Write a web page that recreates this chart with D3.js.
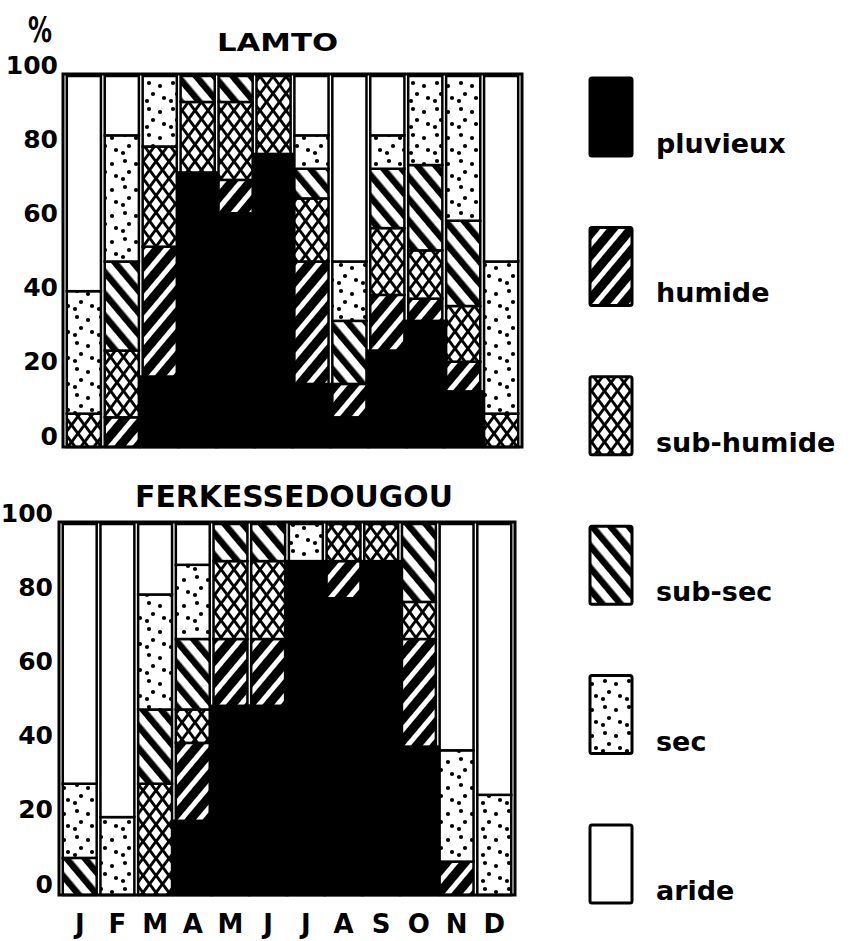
<!DOCTYPE html>
<html><head><meta charset="utf-8">
<script src="https://cdn.jsdelivr.net/npm/d3@7/dist/d3.min.js"></script>
<style>
body{margin:0;background:#fff;}
svg{display:block;}
text{font-family:'DejaVu Sans',sans-serif;font-weight:bold;fill:#000;}
</style></head><body>
<svg id="c" width="852" height="941"></svg>
<script>
// ---------- data ----------
const months = ["J","F","M","A","M","J","J","A","S","O","N","D"];
const categories = ["pluvieux","humide","sub-humide","sub-sec","sec","aride"];
const yTicks = [0,20,40,60,80,100];

// LAMTO (% of years per class, stacked bottom -> top)
const lamtoPluvieux  = [0, 0, 19, 74, 63, 79, 17,  8, 26, 34, 15,  0];
const lamtoHumide    = [0, 8, 35,  0,  9,  0, 33,  9, 15,  6,  8,  0];
const lamtoSubHumide = [9,18, 27, 19, 21, 21, 17,  0, 18, 13, 15,  9];
const lamtoSubSec    = [0,24,  0,  7,  7,  0,  8, 17, 16, 23, 23,  0];
const lamtoSec       = [33,34,19,  0,  0,  0,  9, 16,  9, 24, 39, 41];
const lamtoAride     = [58,16, 0,  0,  0,  0, 16, 50, 16,  0,  0, 50];

// FERKESSEDOUGOU
const ferkePluvieux  = [0, 0,  0, 20, 51, 51, 90, 80, 90, 40,  0,  0];
const ferkeHumide    = [0, 0,  0, 21, 18, 18,  0, 10,  0, 29,  9,  0];
const ferkeSubHumide = [0, 0, 30,  9, 21, 21,  0, 10, 10, 10,  0,  0];
const ferkeSubSec    = [10,0, 20, 19, 10, 10,  0,  0,  0, 21,  0,  0];
const ferkeSec       = [20,21,31, 20,  0,  0, 10,  0,  0,  0, 30, 27];
const ferkeAride     = [70,79,19, 11,  0,  0,  0,  0,  0,  0, 61, 73];

// ---------- setup ----------
const svg = d3.select("#c");
const defs = svg.append("defs");

// humide: black with white "/" stripes
const ph = defs.append("pattern").attr("id","p-humide").attr("patternUnits","userSpaceOnUse")
  .attr("width",14).attr("height",14).attr("patternTransform","rotate(40)");
ph.append("rect").attr("width",14).attr("height",14).attr("fill","#000");
ph.append("rect").attr("x",5).attr("width",5).attr("height",14).attr("fill","#fff");

// sub-sec: white with black "\" stripes
const pss = defs.append("pattern").attr("id","p-subsec").attr("patternUnits","userSpaceOnUse")
  .attr("width",14).attr("height",14).attr("patternTransform","rotate(-40)");
pss.append("rect").attr("width",14).attr("height",14).attr("fill","#fff");
pss.append("rect").attr("x",0).attr("width",6.5).attr("height",14).attr("fill","#000");

// sub-humide: black lattice with white diamonds
const TW = 13, TH = 17, dw = 4.6, dh = 6.3;
const psh = defs.append("pattern").attr("id","p-subhumide").attr("patternUnits","userSpaceOnUse")
  .attr("width",TW).attr("height",TH);
psh.append("rect").attr("width",TW).attr("height",TH).attr("fill","#000");
[[TW/2,TH/2],[0,0],[TW,0],[0,TH],[TW,TH]].forEach(([cx,cy])=>{
  psh.append("polygon").attr("fill","#fff")
    .attr("points",`${cx},${cy-dh} ${cx+dw},${cy} ${cx},${cy+dh} ${cx-dw},${cy}`);
});

// sec: white with black dots
const psec = defs.append("pattern").attr("id","p-sec").attr("patternUnits","userSpaceOnUse")
  .attr("width",24).attr("height",26);
psec.append("rect").attr("width",24).attr("height",26).attr("fill","#fff");
[[5,5],[16,8],[9,16],[20,20],[3,23]].forEach(([cx,cy])=>{
  psec.append("circle").attr("cx",cx).attr("cy",cy).attr("r",2.1).attr("fill","#000");
});

const fills = {
  "pluvieux":"#000",
  "humide":"url(#p-humide)",
  "sub-humide":"url(#p-subhumide)",
  "sub-sec":"url(#p-subsec)",
  "sec":"url(#p-sec)",
  "aride":"#fff"
};

function drawChart(opts){
  const {series, xr, yr, title, titleX, titleY, titleSize, titleLen, tickPad, monthLabels} = opts;
  const rows = months.map((m,i)=>{
    const r = {idx:i};
    categories.forEach((c,k)=>{ r[c] = series[k][i]; });
    return r;
  });
  const x = d3.scaleBand().domain(d3.range(months.length)).range(xr).paddingInner(0.1).paddingOuter(0.1);
  const y = d3.scaleLinear().domain([0,100]).range(yr);
  const stack = d3.stack().keys(categories)(rows);
  const g = svg.append("g");

  stack.forEach(layer=>{
    const key = layer.key;
    const isBlack = key === "pluvieux";
    g.append("g").selectAll("rect")
      .data(layer.filter(d=>d[1]-d[0] > 0))
      .join("rect")
      .attr("x", d=> isBlack ? x(d.data.idx) - x.step()*x.paddingInner()/2 - 0.5 : x(d.data.idx))
      .attr("width", isBlack ? x.step() + 1 : x.bandwidth())
      .attr("y", d=>y(d[1]))
      .attr("height", d=>y(d[0]) - y(d[1]))
      .attr("fill", fills[key])
      .attr("stroke","#000")
      .attr("stroke-width",2.5);
  });

  // frame
  g.append("rect")
    .attr("x", xr[0]).attr("y", yr[1]-2)
    .attr("width", xr[1]-xr[0]).attr("height", yr[0]-yr[1]+2)
    .attr("fill","none").attr("stroke","#000").attr("stroke-width",3);

  // y axis labels
  const ya = g.append("g").attr("transform",`translate(${xr[0]},0)`)
    .call(d3.axisLeft(y).tickValues(yTicks).tickSize(0).tickPadding(tickPad));
  ya.select(".domain").remove();
  ya.selectAll("text").attr("dy",-3).style("font-size","25px")
    .style("font-family","'DejaVu Sans',sans-serif").style("font-weight","bold");

  // title
  g.append("text").attr("x",titleX).attr("y",titleY)
    .style("font-size",titleSize+"px")
    .attr("textLength",titleLen).attr("lengthAdjust","spacingAndGlyphs")
    .text(title);

  if (monthLabels){
    const xa = g.append("g").attr("transform",`translate(0,${yr[0]})`)
      .call(d3.axisBottom(x).tickFormat(i=>months[i]).tickSize(0));
    xa.select(".domain").remove();
    xa.selectAll("text").attr("y",38).attr("dy",0).style("font-size","26px")
      .style("font-family","'DejaVu Sans',sans-serif").style("font-weight","bold");
  }
}

drawChart({
  series:[lamtoPluvieux,lamtoHumide,lamtoSubHumide,lamtoSubSec,lamtoSec,lamtoAride],
  xr:[63,522], yr:[447,76], title:"LAMTO", titleX:217, titleY:51, titleSize:25, titleLen:121,
  tickPad:5, monthLabels:false
});
drawChart({
  series:[ferkePluvieux,ferkeHumide,ferkeSubHumide,ferkeSubSec,ferkeSec,ferkeAride],
  xr:[59,515], yr:[895,524], title:"FERKESSEDOUGOU", titleX:135, titleY:507, titleSize:31, titleLen:318,
  tickPad:6, monthLabels:true
});

// percent sign
svg.append("text").attr("x",28).attr("y",42).style("font-size","36px")
  .attr("textLength",24).attr("lengthAdjust","spacingAndGlyphs").text("%");

// legend
const ly = d3.scaleLinear().domain([0, categories.length-1]).range([78, 825]);
const lg = svg.append("g");
categories.forEach((c,i)=>{
  lg.append("rect").attr("x",590).attr("y",ly(i)).attr("width",42).attr("height",78)
    .attr("rx",2).attr("fill",fills[c]).attr("stroke","#000").attr("stroke-width",3);
  lg.append("text").attr("x",656).attr("y",ly(i)+75).style("font-size","27px").text(c);
});
</script>
</body></html>
